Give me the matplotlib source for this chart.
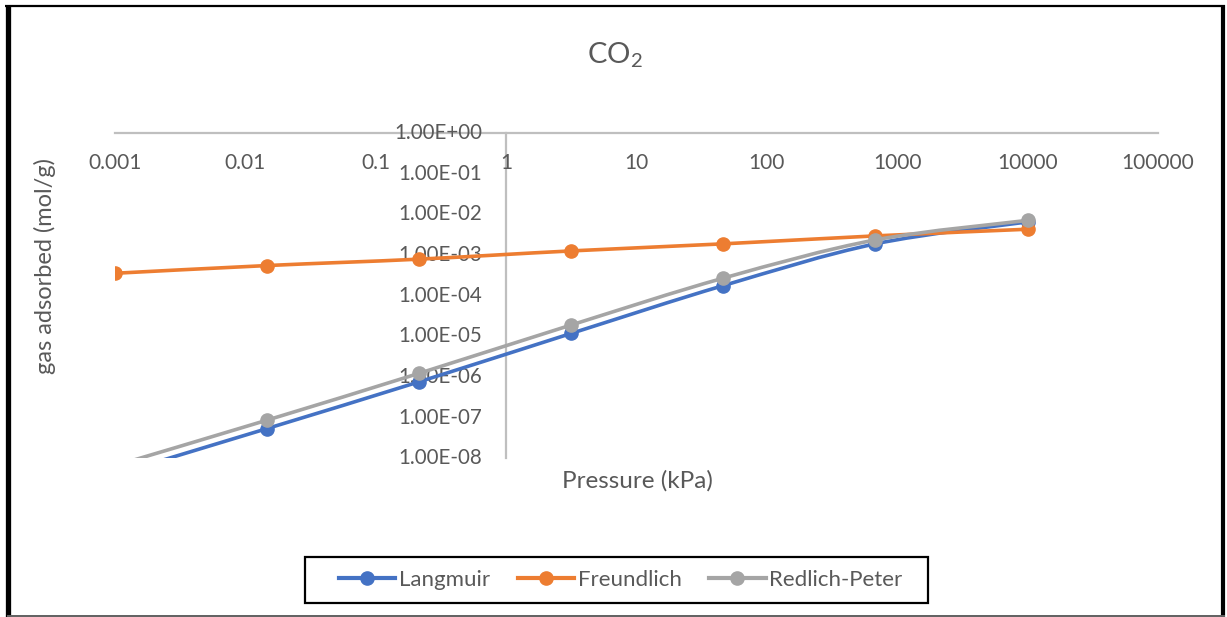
import numpy as np
import matplotlib
matplotlib.use("Agg")
import matplotlib.pyplot as plt
from matplotlib.lines import Line2D
from matplotlib.path import Path
from matplotlib.patches import PathPatch, Rectangle
from matplotlib.transforms import offset_copy

# Isotherm model values (mol/g) at each pressure (kPa)
pressure = [0.001, 0.0147, 0.215, 3.16, 46.4, 681, 10000]
langmuir = [4.0e-9, 5.4e-8, 7.6e-7, 1.18e-5, 1.77e-4, 1.88e-3, 6.5e-3]
freundlich = [3.55e-4, 5.5e-4, 7.9e-4, 1.26e-3, 1.88e-3, 2.95e-3, 4.3e-3]
redlich_peter = [6.6e-9, 8.7e-8, 1.23e-6, 1.9e-5, 2.7e-4, 2.35e-3, 7.1e-3]

series_names = ["Langmuir", "Freundlich", "Redlich-Peter"]
series_colors = ["#4472C4", "#ED7D31", "#A5A5A5"]

x_ticks = [1e-3, 1e-2, 1e-1, 1e0, 1e1, 1e2, 1e3, 1e4, 1e5]
x_tick_labels = ["0.001", "0.01", "0.1", "1", "10", "100", "1000", "10000", "100000"]
y_ticks = [1e0, 1e-1, 1e-2, 1e-3, 1e-4, 1e-5, 1e-6, 1e-7, 1e-8]
y_tick_labels = ["1.00E+00", "1.00E-01", "1.00E-02", "1.00E-03", "1.00E-04",
                 "1.00E-05", "1.00E-06", "1.00E-07", "1.00E-08"]

FONT = "Lato"
TEXT_COLOR = "#595959"
AXIS_COLOR = "#BFBFBF"

plt.rcParams["font.family"] = [FONT, "DejaVu Sans"]
plt.rcParams["mathtext.fontset"] = "custom"
plt.rcParams["mathtext.rm"] = FONT

W, H = 1227, 617
fig = plt.figure(figsize=(W / 100, H / 100), dpi=100)
fig.patch.set_facecolor("white")

left, right, top, bottom = 115, 1158, 133, 458.3
ax = fig.add_axes([left / W, 1 - bottom / H, (right - left) / W, (bottom - top) / H])
ax.set_xscale("log")
ax.set_yscale("log")
ax.set_xlim(1e-3, 1e5)
ax.set_ylim(1e-8, 1e0)
for s in ax.spines.values():
    s.set_visible(False)
ax.set_xticks([])
ax.set_yticks([])
ax.minorticks_off()
ax.tick_params(which="both", length=0, labelbottom=False, labelleft=False)
ax.patch.set_alpha(0)


def smooth_path(xs, ys):
    """Catmull-Rom style Bezier through the points, built in log-log space."""
    lx = np.log10(xs)
    ly = np.log10(ys)
    pts = np.column_stack([lx, ly])
    n = len(pts)
    verts = [pts[0]]
    codes = [Path.MOVETO]
    for i in range(n - 1):
        p0 = pts[i - 1] if i > 0 else pts[i]
        p1 = pts[i]
        p2 = pts[i + 1]
        p3 = pts[i + 2] if i + 2 < n else pts[i + 1]
        c1 = p1 + (p2 - p0) / 6.0
        c2 = p2 - (p3 - p1) / 6.0
        verts += [c1, c2, p2]
        codes += [Path.CURVE4] * 3
    verts = 10 ** np.array(verts)
    return Path(verts, codes)


all_series = [langmuir, freundlich, redlich_peter]
for i, (vals, color) in enumerate(zip(all_series, series_colors)):
    z = 3 + i
    patch = PathPatch(smooth_path(pressure, vals), facecolor="none",
                      edgecolor=color, lw=2.6, capstyle="round",
                      joinstyle="round", zorder=z)
    ax.add_patch(patch)
    ax.plot(pressure, vals, ls="none", marker="o", ms=9.5, color=color,
            zorder=z + 0.5)

# Axis lines crossing at (1, 1)
ax.axhline(1e0, color=AXIS_COLOR, lw=1.6, zorder=1, clip_on=False)
ax.axvline(1e0, color=AXIS_COLOR, lw=1.6, zorder=1, clip_on=False)

# Tick labels
xtrans = offset_copy(ax.get_xaxis_transform(), fig=fig, x=0, y=-30, units="dots")
for xv, lab in zip(x_ticks, x_tick_labels):
    ax.text(xv, 1.0, lab, transform=xtrans, ha="center", va="center",
            fontsize=15, color=TEXT_COLOR, zorder=2)

ytrans = offset_copy(ax.transData, fig=fig, x=-23.5, y=0, units="dots")
for yv, lab in zip(y_ticks, y_tick_labels):
    ax.text(1.0, yv, lab, transform=ytrans, ha="right", va="center",
            fontsize=14.8, color=TEXT_COLOR, zorder=2, clip_on=False)

# Titles
fig.text(615 / W, 1 - 55 / H, r"CO$_\mathregular{2}$", ha="center", va="center",
         fontsize=21, color=TEXT_COLOR)
fig.text(637 / W, 1 - 481 / H, "Pressure (kPa)", ha="center", va="center",
         fontsize=17.5, color=TEXT_COLOR)
fig.text(45 / W, 1 - 266 / H, "gas adsorbed (mol/g)", ha="center", va="center",
         rotation=90, fontsize=17, color=TEXT_COLOR)

# Legend (frame drawn separately for wider side padding)
handles = [Line2D([0], [0], color=c, lw=3.0, marker="o", ms=9.5)
           for c in series_colors]
leg = fig.legend(handles, series_names, loc="center",
                 bbox_to_anchor=(620.5 / W, 1 - 580 / H), ncol=3,
                 fontsize=16, frameon=False, handlelength=2.55,
                 handletextpad=0.15, columnspacing=1.25, labelcolor=TEXT_COLOR)
fig.add_artist(Rectangle((304.5 / W, 1 - 602.5 / H), (928 - 304.5) / W,
                         (602.5 - 557) / H, transform=fig.transFigure,
                         facecolor="none", edgecolor="black", lw=1.6))

# Outer frame
def frame_line(xs, ys, color, lw):
    fig.add_artist(Line2D([x / W for x in xs], [1 - y / H for y in ys],
                          transform=fig.transFigure, color=color, lw=lw,
                          solid_capstyle="butt"))

frame_line([7.5, 7.5], [5, 617], "black", 3.8)
frame_line([5, 1225], [6, 6], "black", 1.6)
frame_line([1223, 1223], [5, 617], "black", 3.0)
frame_line([7, 1225], [616, 616], "#606060", 1.4)

fig.savefig("out.png", dpi=100, facecolor="white")
